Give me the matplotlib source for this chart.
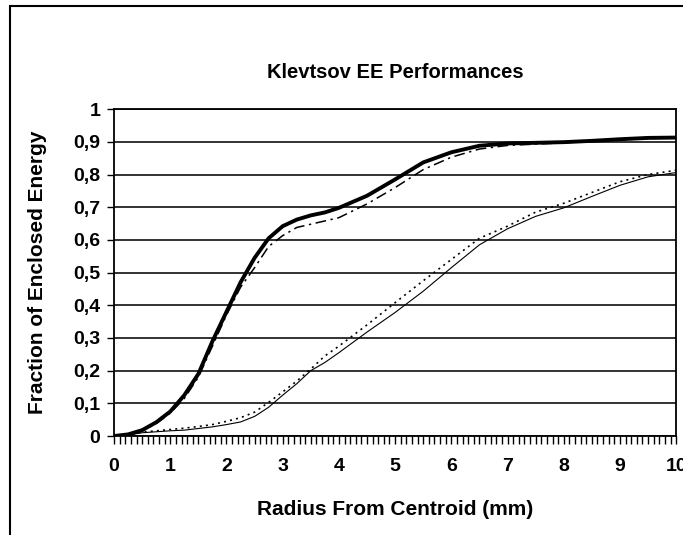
import matplotlib.pyplot as plt
from matplotlib.patches import Rectangle
from matplotlib.ticker import MultipleLocator, FuncFormatter

# radius from centroid (mm), shared by all four curves
radius = [0, 0.25, 0.5, 0.75, 1.0, 1.25, 1.5, 1.75, 2.0, 2.25, 2.5, 2.75,
          3.0, 3.25, 3.5, 3.75, 4.0, 4.5, 5.0, 5.5, 6.0, 6.5, 7.0, 7.5,
          8.0, 8.5, 9.0, 9.5, 10.0]

ee_thick = [0, 0.005, 0.018, 0.042, 0.075, 0.125, 0.19, 0.29, 0.38, 0.47,
            0.545, 0.605, 0.642, 0.662, 0.675, 0.684, 0.698, 0.735, 0.785,
            0.837, 0.868, 0.888, 0.895, 0.897, 0.899, 0.903, 0.908, 0.912,
            0.913]

ee_dashdot = [0, 0.004, 0.015, 0.038, 0.07, 0.115, 0.18, 0.275, 0.37, 0.455,
              0.515, 0.58, 0.613, 0.638, 0.648, 0.658, 0.668, 0.71, 0.76,
              0.815, 0.853, 0.878, 0.889, 0.893, 0.897, 0.902, 0.906, 0.91,
              0.912]

ee_thin = [0, 0.003, 0.01, 0.013, 0.016, 0.018, 0.023, 0.028, 0.035, 0.043,
           0.06, 0.088, 0.125, 0.16, 0.2, 0.225, 0.255, 0.318, 0.378, 0.443,
           0.515, 0.585, 0.634, 0.672, 0.698, 0.733, 0.767, 0.793, 0.806]

ee_dotted = [0, 0.004, 0.012, 0.016, 0.02, 0.024, 0.029, 0.035, 0.045, 0.056,
             0.073, 0.103, 0.135, 0.168, 0.205, 0.245, 0.275, 0.34, 0.408,
             0.475, 0.54, 0.605, 0.642, 0.685, 0.712, 0.745, 0.778, 0.8,
             0.813]

y_ticks = [0, 0.1, 0.2, 0.3, 0.4, 0.5, 0.6, 0.7, 0.8, 0.9, 1.0]

plt.rcParams["font.family"] = ["Liberation Sans", "DejaVu Sans"]
plt.rcParams["font.weight"] = "bold"

fig = plt.figure(figsize=(6.83, 5.35), dpi=100)
ax = fig.add_axes([0.167, 0.185, 0.823, 0.611])

# outer chart frame, cut by the image edge on the right and bottom
fig.patches.append(Rectangle((10 / 683, -0.1), 1.2, 1.1 - 6 / 535,
                             transform=fig.transFigure, fill=False,
                             edgecolor="black", linewidth=1.5))

for y in y_ticks:
    ax.axhline(y, color="#222222", linewidth=1.3, zorder=1)

ax.plot(radius, ee_thin, color="black", linewidth=0.8, zorder=3)
ax.plot(radius, ee_dotted, color="black", linewidth=1.2,
        dashes=(1.2, 2.5), zorder=3)
ax.plot(radius, ee_dashdot, color="black", linewidth=1.1,
        dashes=(7, 3, 1.5, 3), zorder=3)
ax.plot(radius, ee_thick, color="black", linewidth=2.8, zorder=4)

ax.set_xlim(0, 10)
ax.set_ylim(0, 1)
ax.set_yticks(y_ticks)
ax.xaxis.set_major_locator(MultipleLocator(1))
ax.xaxis.set_minor_locator(MultipleLocator(0.1))

fmt = FuncFormatter(lambda v, _: f"{v:g}".replace(".", ","))
ax.yaxis.set_major_formatter(fmt)

ax.tick_params(axis="both", which="both", direction="out", color="black",
               width=1.0, labelsize=14)
ax.tick_params(axis="x", which="major", length=6, pad=10)
ax.tick_params(axis="x", which="minor", length=6)
ax.tick_params(axis="y", which="major", length=5, pad=5)

for spine in ax.spines.values():
    spine.set_linewidth(1.3)
    spine.set_color("black")

fig.text(395 / 683, 1 - 72 / 535, "Klevtsov EE Performances",
         fontsize=14.5, fontweight="bold", ha="center", va="center")
ax.set_xlabel("Radius From Centroid (mm)", fontsize=15, fontweight="bold")
ax.set_ylabel("Fraction of Enclosed Energy", fontsize=15, fontweight="bold")
ax.xaxis.set_label_coords(0.5, -0.196)
ax.yaxis.set_label_coords(-0.119, 0.5)

fig.savefig("out.png", dpi=100)
